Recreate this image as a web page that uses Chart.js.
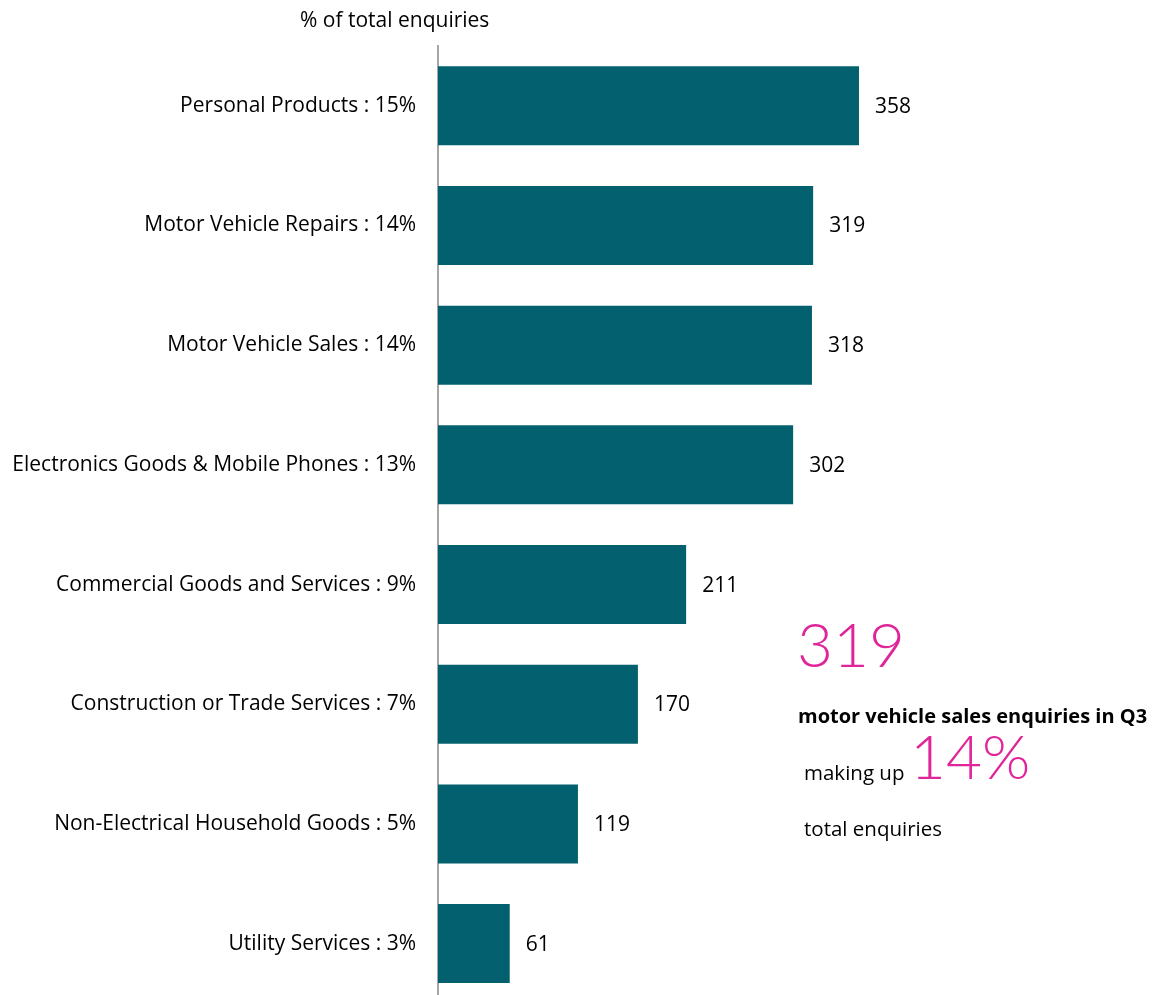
<!DOCTYPE html>
<html>
<head>
<meta charset="utf-8">
<script src="https://cdn.jsdelivr.net/npm/chart.js@4"></script>
<style>
  html, body { margin: 0; padding: 0; background: #fff; overflow: hidden; }
  #wrap { position: relative; width: 1153px; height: 995px; overflow: hidden; }
  #chart { position: absolute; left: 0; top: 0; }
  .txt { position: absolute; font-family: "Open Sans", sans-serif; color: #000; white-space: nowrap; }
  .pink { font-family: Lato, sans-serif; color: #E0249A; font-weight: 300; }
</style>
</head>
<body>
<div id="wrap">
  <canvas id="chart" width="1153" height="1038"></canvas>
  <div class="txt" style="left:300px; top:5px; font-size:21px;">% of total enquiries</div>
  <div class="txt pink" style="left:797px; top:606px; font-size:62px;">319</div>
  <div class="txt" style="left:798px; top:702px; font-size:20px; font-weight:bold;">motor vehicle sales enquiries in Q3</div>
  <div class="txt" style="left:804px; top:758px; font-size:20.5px;">making up</div>
  <div class="txt pink" style="left:910px; top:718px; font-size:62px;">14%</div>
  <div class="txt" style="left:804px; top:814px; font-size:20.5px;">total enquiries</div>
</div>
<script>
const categories = [
  "Personal Products : 15%",
  "Motor Vehicle Repairs : 14%",
  "Motor Vehicle Sales : 14%",
  "Electronics Goods & Mobile Phones : 13%",
  "Commercial Goods and Services : 9%",
  "Construction or Trade Services : 7%",
  "Non-Electrical Household Goods : 5%",
  "Utility Services : 3%"
];
const enquiries = [358, 319, 318, 302, 211, 170, 119, 61];

// value labels to the right of each bar
const valueLabels = {
  id: "valueLabels",
  afterDatasetsDraw(chart) {
    const ctx = chart.ctx;
    const meta = chart.getDatasetMeta(0);
    ctx.save();
    ctx.font = "21px 'Open Sans', sans-serif";
    ctx.fillStyle = "#000";
    ctx.textBaseline = "middle";
    ctx.textAlign = "left";
    meta.data.forEach((bar, i) => {
      ctx.fillText(String(enquiries[i]), bar.x + 16, bar.y + 1);
    });
    ctx.restore();
  }
};

new Chart(document.getElementById("chart"), {
  type: "bar",
  data: {
    labels: categories,
    datasets: [{
      data: enquiries,
      backgroundColor: "#03606E",
      categoryPercentage: 1,
      barPercentage: 0.66
    }]
  },
  options: {
    indexAxis: "y",
    responsive: false,
    animation: false,
    devicePixelRatio: 1,
    layout: { padding: { top: 46, left: 0, right: 0, bottom: 0 } },
    plugins: { legend: { display: false }, tooltip: { enabled: false } },
    scales: {
      x: { display: false, min: 0, max: 608 },
      y: {
        afterFit(scale) { scale.width = 438; },
        grid: { display: false, drawTicks: false },
        border: { display: true, color: "#A6A6A6", width: 2 },
        ticks: {
          padding: 22,
          color: "#000",
          font: { family: "'Open Sans', sans-serif", size: 21 }
        }
      }
    }
  },
  plugins: [valueLabels]
});
</script>
</body>
</html>
